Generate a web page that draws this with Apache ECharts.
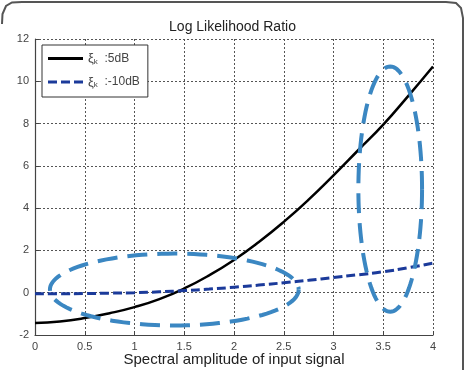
<!DOCTYPE html>
<html>
<head>
<meta charset="utf-8">
<script src="https://cdn.jsdelivr.net/npm/echarts@6/dist/echarts.min.js"></script>
<style>
	html, body { margin: 0; padding: 0; background: #fff; }
	#chart { width: 465px; height: 370px; }
</style>
</head>
<body>
<div id="chart"></div>
<script>
	// x positions of the sampled curves
	var xs = [0, 0.25, 0.5, 0.75, 1, 1.25, 1.5, 1.75, 2, 2.25, 2.5, 2.75, 3, 3.25, 3.5, 3.75, 4];
	// xi_k = 5dB
	var llr5 = [-1.43, -1.36, -1.2, -0.97, -0.68, -0.3, 0.2, 0.82, 1.55, 2.4, 3.35, 4.4, 5.55, 6.75, 7.95, 9.3, 10.7];
	// xi_k = -10dB
	var llr10 = [-0.05, -0.05, -0.04, -0.02, 0, 0.04, 0.1, 0.17, 0.26, 0.36, 0.47, 0.59, 0.72, 0.85, 0.99, 1.18, 1.4];
	var xTicks = ['0', '0.5', '1', '1.5', '2', '2.5', '3', '3.5', '4'];
	// highlight ellipses: [cx, cy, rx, ry] in data units
	var ellipses = [
		[1.4, 0.15, 1.25, 1.7],
		[3.57, 4.9, 0.32, 5.8]
	];

	function pairs(x, y) {
		var out = [];
		for (var i = 0; i < x.length; i++) out.push([x[i], y[i]]);
		return out;
	}

	var chart = echarts.init(document.getElementById('chart'));
	var font = 'Liberation Sans, Arial, sans-serif';
	var option = {
		animation: false,
		textStyle: { fontFamily: font },
		title: {
			text: 'Log Likelihood Ratio',
			left: 'center',
			top: 15,
			textStyle: { color: '#222', fontSize: 14, fontWeight: 'normal' }
		},
		legend: {
			orient: 'vertical',
			left: 42,
			top: 45,
			padding: [7, 8, 8, 6],
			itemGap: 10,
			itemWidth: 35,
			itemHeight: 3,
			borderColor: '#333',
			borderWidth: 1,
			backgroundColor: '#fff',
			formatter: function (name) {
				return '{a|ξ}{b|k}  {c|' + name + '}';
			},
			textStyle: {
				rich: {
					a: { fontSize: 13, color: '#444', fontFamily: font },
					b: { fontSize: 8, color: '#444', verticalAlign: 'bottom', padding: [6, 0, 0, 0], fontFamily: font },
					c: { fontSize: 12, color: '#444', fontFamily: font }
				}
			},
			data: [
				{ name: ':5dB', icon: 'rect' },
				{ name: ':-10dB', icon: 'path://M0,0h9v3h-9z M13,0h9v3h-9z M26,0h9v3h-9z' }
			]
		},
		grid: { left: 35, right: 32, top: 39, bottom: 35, outerBoundsMode: 'none' },
		xAxis: {
			type: 'value',
			min: 0,
			max: 4,
			interval: 0.5,
			name: 'Spectral amplitude of input signal',
			nameLocation: 'middle',
			nameGap: 17,
			nameMoveOverlap: false,
			nameTextStyle: { color: '#222', fontSize: 15 },
			axisLine: { onZero: false, lineStyle: { color: '#444', width: 1.2 } },
			axisTick: { inside: true, length: 4, lineStyle: { color: '#444' } },
			axisLabel: {
				color: '#444',
				fontSize: 11,
				margin: 6,
				formatter: function (v) {
					var i = Math.round(v / 0.5);
					return xTicks[i];
				}
			},
			splitLine: { show: true, lineStyle: { color: '#555', type: [2, 2], width: 1 } }
		},
		yAxis: {
			type: 'value',
			min: -2,
			max: 12,
			interval: 2,
			axisLine: { show: true, onZero: false, lineStyle: { color: '#444', width: 1.2 } },
			axisTick: { show: true, inside: true, length: 4, lineStyle: { color: '#444' } },
			axisLabel: { color: '#444', fontSize: 11, margin: 6 },
			splitLine: { show: true, lineStyle: { color: '#555', type: [2, 2], width: 1 } }
		},
		series: [{
			name: ':5dB',
			type: 'line',
			data: pairs(xs, llr5),
			smooth: true,
			symbol: 'none',
			lineStyle: { color: '#000', width: 2.5 },
			itemStyle: { color: '#000' },
			z: 3
		}, {
			name: ':-10dB',
			type: 'line',
			data: pairs(xs, llr10),
			smooth: true,
			symbol: 'none',
			lineStyle: { color: '#1b3a9a', width: 3, type: [9, 4] },
			itemStyle: { color: '#1b3a9a' },
			z: 4
		}]
	};
	chart.setOption(option);

	// annotation ellipses and outer frame
	var graphics = [{
		type: 'polyline',
		shape: { points: [[2, 24], [2.5, 14], [6, 6], [12, 2.5], [22, 2], [446, 2], [456, 3], [461, 8], [463, 18], [463, 372]] },
		style: { fill: null, stroke: '#555', lineWidth: 2 },
		silent: true
	}];
	ellipses.forEach(function (e) {
		var c = chart.convertToPixel({ gridIndex: 0 }, [e[0], e[1]]);
		var p = chart.convertToPixel({ gridIndex: 0 }, [e[0] + e[2], e[1] + e[3]]);
		var rx = Math.abs(p[0] - c[0]), ry = Math.abs(c[1] - p[1]);
		var pts = [];
		for (var k = 0; k <= 120; k++) {
			var t = k / 120 * Math.PI * 2;
			pts.push([c[0] + rx * Math.cos(t), c[1] + ry * Math.sin(t)]);
		}
		graphics.push({
			type: 'polyline',
			shape: { points: pts },
			style: { fill: null, stroke: '#3b87c2', lineWidth: 4, lineDash: [20, 10] },
			z: 10,
			silent: true
		});
	});
	chart.setOption({ graphic: graphics });
</script>
</body>
</html>
